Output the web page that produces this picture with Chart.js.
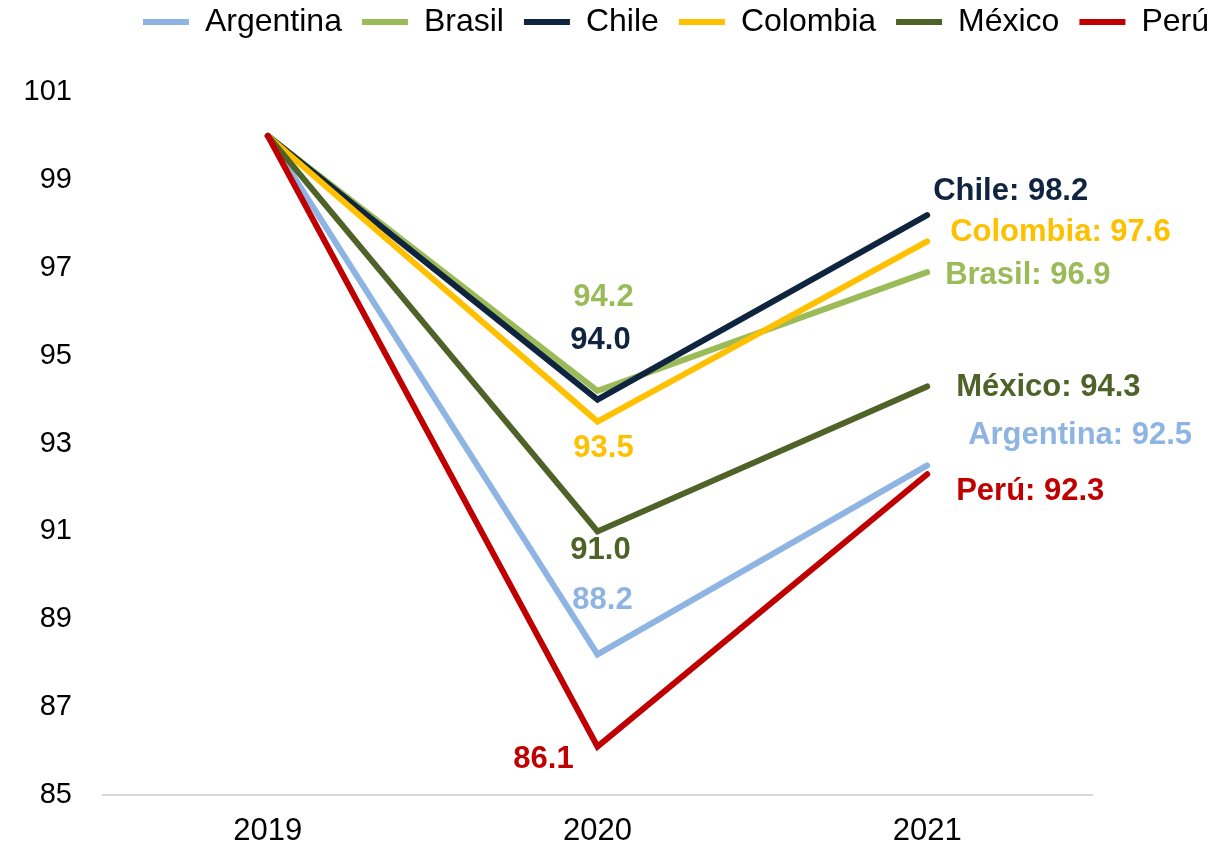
<!DOCTYPE html>
<html>
<head>
<meta charset="utf-8">
<script src="https://cdn.jsdelivr.net/npm/chart.js@4.4.1/dist/chart.umd.min.js"></script>
<style>
  html, body { margin: 0; padding: 0; background: #fff; overflow: hidden; }
  #wrap { position: relative; width: 1229px; height: 846px; }
</style>
</head>
<body>
<div id="wrap"><canvas id="chart"></canvas></div>
<script>
// índice 2019 = 100
const years = ['2019', '2020', '2021'];
const countries = ['Argentina', 'Brasil', 'Chile', 'Colombia', 'México', 'Perú'];
const argentina = [100, 88.2, 92.5];
const brasil = [100, 94.2, 96.9];
const chile = [100, 94.0, 98.2];
const colombia = [100, 93.5, 97.6];
const mexico = [100, 91.0, 94.3];
const peru = [100, 86.1, 92.3];
const yTicks = { min: 85, max: 101, step: 2 };

const FONT = '"Liberation Sans", Arial, sans-serif';
const colors = ['#8DB4E2', '#9BBB59', '#0F243E', '#FFC000', '#4F6228', '#C00000'];
const series = [argentina, brasil, chile, colombia, mexico, peru];

// desplazamiento de cada etiqueta respecto a su punto: [dx, dy, align]
const labelPos = {
  'Argentina': [null, [5, -54, 'center'], [41, -30, 'left']],
  'Brasil':    [null, [6, -93, 'center'], [18, 3, 'left']],
  'Chile':     [null, [3, -59, 'center'], [6, -24, 'left']],
  'Colombia':  [null, [6, 27, 'center'], [23, -9, 'left']],
  'México':    [null, [3, 19, 'center'], [29, 1, 'left']],
  'Perú':      [null, [-54, 13, 'center'], [29, 17, 'left']]
};

// etiquetas con el valor en 2020 y 2021
const pointLabels = {
  id: 'pointLabels',
  afterDatasetsDraw(chart) {
    const ctx = chart.ctx;
    ctx.save();
    ctx.font = 'bold 31px ' + FONT;
    ctx.textBaseline = 'middle';
    chart.data.datasets.forEach((ds, i) => {
      const meta = chart.getDatasetMeta(i);
      ds.data.forEach((v, j) => {
        const pos = labelPos[ds.label][j];
        if (!pos) return;
        const pt = meta.data[j];
        const text = j === 2 ? `${ds.label}: ${v.toFixed(1)}` : v.toFixed(1);
        ctx.fillStyle = ds.borderColor;
        ctx.textAlign = pos[2];
        ctx.fillText(text, pt.x + pos[0], pt.y + pos[1]);
      });
    });
    ctx.restore();
  }
};

// más espacio entre la leyenda y el gráfico
const legendGap = {
  id: 'legendGap',
  beforeInit(chart) {
    const fit = chart.legend.fit;
    chart.legend.fit = function () {
      fit.call(this);
      this.height += 44;
    };
  }
};

const datasets = countries.map((name, i) => ({
  label: name,
  data: series[i],
  borderColor: colors[i],
  backgroundColor: colors[i],
  borderWidth: 6,
  borderCapStyle: 'round',
  borderJoinStyle: 'miter',
  pointRadius: 0,
  tension: 0,
  order: countries.length - i   // Perú queda encima
}));

new Chart(document.getElementById('chart'), {
  type: 'line',
  data: { labels: years, datasets },
  options: {
    responsive: true,
    maintainAspectRatio: false,
    animation: false,
    layout: { padding: { top: -14, left: 0, right: 0, bottom: 0 } },
    plugins: {
      legend: {
        position: 'top',
        align: 'end',
        labels: {
          font: { size: 32, family: FONT },
          color: '#000',
          usePointStyle: true,
          pointStyle: 'line',
          pointStyleWidth: 46,
          padding: 20,
          sort: (a, b) => a.datasetIndex - b.datasetIndex
        }
      },
      tooltip: { enabled: false }
    },
    scales: {
      x: {
        offset: true,
        grid: { display: false, drawTicks: false },
        border: { display: true, color: '#D9D9D9', width: 2 },
        ticks: { font: { size: 31, family: FONT }, color: '#000', padding: 18 },
        afterFit: s => { s.height = 51; }
      },
      y: {
        min: yTicks.min,
        max: yTicks.max,
        grid: { display: false, drawTicks: false },
        border: { display: false },
        ticks: { stepSize: yTicks.step, font: { size: 29, family: FONT }, color: '#000', padding: 31 },
        afterFit: s => { s.width = 103; }
      },
      yPad: {
        type: 'linear',
        position: 'right',
        grid: { display: false, drawTicks: false },
        border: { display: false },
        ticks: { display: false },
        afterFit: s => { s.width = 137; }
      }
    }
  },
  plugins: [legendGap, pointLabels]
});
</script>
</body>
</html>
